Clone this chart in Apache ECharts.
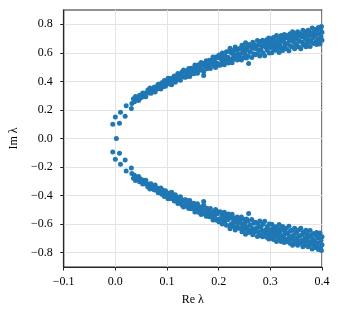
<!DOCTYPE html>
<html>
<head>
<meta charset="utf-8">
<script src="https://cdn.jsdelivr.net/npm/echarts@6/dist/echarts.min.js"></script>
<style>html,body{margin:0;padding:0;background:#fff}#c{width:340px;height:316px}</style>
</head>
<body>
<div id="c"></div>
<script>
const xTicks = [-0.1, 0.0, 0.1, 0.2, 0.3, 0.4];
const yTicks = [-0.8, -0.6, -0.4, -0.2, 0.0, 0.2, 0.4, 0.6, 0.8];
const xLabel = 'Re λ';
const yLabel = 'Im λ';

const upperBranch = [
[0.002,0.0],[-0.005,0.10],[0.0,0.15],[0.008,0.107],[0.010,0.184],[0.019,0.156],[0.021,0.23],[0.031,0.21],[0.032,0.245],
[0.035,0.278],[0.037,0.258],[0.039,0.294],[0.041,0.275],[0.043,0.288],[0.045,0.267],[0.047,0.303],[0.049,0.284],
[0.051,0.299],[0.053,0.319],[0.055,0.292],[0.057,0.317],[0.059,0.293],[0.061,0.320],[0.063,0.339],[0.065,0.318],
[0.067,0.353],[0.069,0.317],[0.071,0.342],[0.073,0.339],[0.075,0.359],[0.077,0.325],[0.079,0.363],[0.081,0.346],
[0.083,0.380],[0.085,0.359],[0.087,0.368],[0.088,0.347],[0.090,0.390],[0.092,0.362],[0.094,0.384],[0.095,0.406],
[0.097,0.366],[0.099,0.397],[0.100,0.383],[0.102,0.422],[0.104,0.381],[0.106,0.404],[0.107,0.421],[0.109,0.376],
[0.111,0.422],[0.112,0.407],[0.114,0.437],[0.116,0.394],[0.117,0.429],[0.119,0.410],[0.121,0.455],[0.122,0.429],
[0.124,0.450],[0.126,0.408],[0.127,0.443],[0.129,0.465],[0.131,0.434],[0.132,0.480],[0.134,0.429],[0.136,0.462],
[0.137,0.430],[0.139,0.474],[0.141,0.454],[0.142,0.491],[0.144,0.434],[0.146,0.471],[0.147,0.492],[0.149,0.457],
[0.151,0.490],[0.152,0.453],[0.154,0.515],[0.156,0.480],[0.157,0.493],[0.159,0.457],[0.161,0.517],[0.162,0.478],
[0.164,0.496],[0.166,0.533],[0.167,0.479],[0.169,0.515],[0.171,0.442],[0.171,0.467],[0.172,0.527],[0.174,0.500],
[0.176,0.544],[0.177,0.489],[0.179,0.522],[0.181,0.505],[0.182,0.548],[0.184,0.491],[0.186,0.544],[0.187,0.525],
[0.189,0.570],[0.191,0.512],[0.192,0.545],[0.194,0.498],[0.196,0.572],[0.197,0.527],[0.199,0.565],[0.199,0.515],
[0.201,0.584],[0.203,0.513],[0.204,0.560],[0.206,0.536],[0.207,0.599],[0.209,0.550],[0.2095,0.575],
[0.211,0.516],[0.212,0.580],[0.214,0.536],[0.215,0.607],[0.217,0.555],[0.218,0.569],[0.219,0.529],
[0.221,0.609],[0.222,0.632],[0.224,0.555],[0.225,0.597],[0.226,0.531],[0.228,0.617],[0.229,0.571],[0.2295,0.589],
[0.231,0.557],[0.232,0.640],[0.233,0.576],[0.235,0.618],[0.236,0.549],[0.238,0.593],[0.239,0.629],
[0.241,0.574],[0.242,0.627],[0.244,0.550],[0.245,0.653],[0.246,0.598],[0.248,0.616],[0.249,0.565],[0.2495,0.637],
[0.251,0.591],[0.252,0.670],[0.254,0.564],[0.255,0.619],[0.256,0.643],[0.257,0.577],[0.258,0.525],[0.259,0.658],
[0.261,0.606],[0.262,0.644],[0.264,0.567],[0.265,0.630],[0.266,0.674],[0.268,0.593],[0.269,0.657],
[0.271,0.586],[0.272,0.645],[0.273,0.627],[0.275,0.687],[0.276,0.596],[0.277,0.655],[0.279,0.619],[0.2795,0.577],
[0.281,0.679],[0.282,0.618],[0.284,0.645],[0.285,0.688],[0.286,0.598],[0.287,0.657],[0.289,0.580],
[0.291,0.677],[0.292,0.638],[0.293,0.691],[0.294,0.618],[0.296,0.655],[0.297,0.704],[0.298,0.598],[0.299,0.669],
[0.301,0.637],[0.302,0.693],[0.303,0.600],[0.304,0.659],[0.306,0.708],[0.307,0.620],[0.308,0.671],[0.309,0.644],[0.3095,0.685],
[0.311,0.618],[0.312,0.721],[0.313,0.662],[0.315,0.636],[0.316,0.699],[0.317,0.603],[0.318,0.675],[0.319,0.650],
[0.321,0.721],[0.322,0.631],[0.323,0.693],[0.324,0.616],[0.326,0.677],[0.327,0.728],[0.328,0.649],[0.329,0.704],[0.3295,0.665],
[0.331,0.629],[0.332,0.721],[0.334,0.664],[0.335,0.705],[0.336,0.614],[0.337,0.687],[0.338,0.733],[0.339,0.648],
[0.341,0.703],[0.342,0.643],[0.343,0.748],[0.344,0.679],[0.346,0.723],[0.347,0.628],[0.348,0.707],[0.349,0.664],[0.3495,0.735],
[0.351,0.656],[0.352,0.696],[0.353,0.747],[0.355,0.641],[0.356,0.719],[0.357,0.682],[0.358,0.733],[0.359,0.628],
[0.361,0.713],[0.362,0.672],[0.363,0.758],[0.364,0.654],[0.366,0.730],[0.367,0.697],[0.368,0.746],[0.369,0.642],[0.3695,0.722],
[0.371,0.669],[0.372,0.715],[0.373,0.759],[0.375,0.689],[0.376,0.744],[0.377,0.644],[0.378,0.726],[0.379,0.677],
[0.381,0.774],[0.382,0.705],[0.383,0.743],[0.384,0.666],[0.386,0.718],[0.387,0.764],[0.388,0.680],[0.389,0.730],[0.3895,0.658],
[0.391,0.760],[0.392,0.697],[0.393,0.778],[0.394,0.680],[0.395,0.732],[0.396,0.661],[0.397,0.766],[0.398,0.715],[0.399,0.784],[0.400,0.689],[0.400,0.745]
];

const lowerBranch = [
[-0.005,-0.095],[0.0,-0.146],[0.008,-0.104],[0.010,-0.181],[0.019,-0.151],[0.021,-0.228],[0.031,-0.207],[0.032,-0.245],
[0.035,-0.278],[0.037,-0.258],[0.039,-0.294],[0.041,-0.275],[0.043,-0.288],[0.045,-0.267],[0.047,-0.303],[0.049,-0.284],
[0.051,-0.299],[0.053,-0.319],[0.055,-0.292],[0.057,-0.317],[0.059,-0.293],[0.061,-0.320],[0.063,-0.339],[0.065,-0.318],
[0.067,-0.353],[0.069,-0.317],[0.071,-0.342],[0.073,-0.339],[0.075,-0.359],[0.077,-0.325],[0.079,-0.363],[0.081,-0.346],
[0.083,-0.380],[0.085,-0.359],[0.087,-0.368],[0.088,-0.347],[0.090,-0.390],[0.092,-0.362],[0.094,-0.384],[0.095,-0.406],
[0.097,-0.366],[0.099,-0.397],[0.100,-0.383],[0.102,-0.422],[0.104,-0.381],[0.106,-0.404],[0.107,-0.421],[0.109,-0.376],
[0.111,-0.422],[0.112,-0.407],[0.114,-0.437],[0.116,-0.394],[0.117,-0.429],[0.119,-0.410],[0.121,-0.455],[0.122,-0.429],
[0.124,-0.450],[0.126,-0.408],[0.127,-0.443],[0.129,-0.465],[0.131,-0.434],[0.132,-0.480],[0.134,-0.429],[0.136,-0.462],
[0.137,-0.430],[0.139,-0.474],[0.141,-0.454],[0.142,-0.491],[0.144,-0.434],[0.146,-0.471],[0.147,-0.492],[0.149,-0.457],
[0.151,-0.490],[0.152,-0.453],[0.154,-0.515],[0.156,-0.480],[0.157,-0.493],[0.159,-0.457],[0.161,-0.517],[0.162,-0.478],
[0.164,-0.496],[0.166,-0.533],[0.167,-0.479],[0.169,-0.515],[0.171,-0.442],[0.171,-0.467],[0.172,-0.527],[0.174,-0.500],
[0.176,-0.544],[0.177,-0.489],[0.179,-0.522],[0.181,-0.505],[0.182,-0.548],[0.184,-0.491],[0.186,-0.544],[0.187,-0.525],
[0.189,-0.570],[0.191,-0.512],[0.192,-0.545],[0.194,-0.498],[0.196,-0.572],[0.197,-0.527],[0.199,-0.565],[0.199,-0.515],
[0.201,-0.584],[0.203,-0.513],[0.204,-0.560],[0.206,-0.536],[0.207,-0.599],[0.209,-0.550],[0.2095,-0.575],
[0.211,-0.516],[0.212,-0.580],[0.214,-0.536],[0.215,-0.607],[0.217,-0.555],[0.218,-0.569],[0.219,-0.529],
[0.221,-0.609],[0.222,-0.632],[0.224,-0.555],[0.225,-0.597],[0.226,-0.531],[0.228,-0.617],[0.229,-0.571],[0.2295,-0.589],
[0.231,-0.557],[0.232,-0.640],[0.233,-0.576],[0.235,-0.618],[0.236,-0.549],[0.238,-0.593],[0.239,-0.629],
[0.241,-0.574],[0.242,-0.627],[0.244,-0.550],[0.245,-0.653],[0.246,-0.598],[0.248,-0.616],[0.249,-0.565],[0.2495,-0.637],
[0.251,-0.591],[0.252,-0.670],[0.254,-0.564],[0.255,-0.619],[0.256,-0.643],[0.257,-0.577],[0.258,-0.525],[0.259,-0.658],
[0.261,-0.606],[0.262,-0.644],[0.264,-0.567],[0.265,-0.630],[0.266,-0.674],[0.268,-0.593],[0.269,-0.657],
[0.271,-0.586],[0.272,-0.645],[0.273,-0.627],[0.275,-0.687],[0.276,-0.596],[0.277,-0.655],[0.279,-0.619],[0.2795,-0.577],
[0.281,-0.679],[0.282,-0.618],[0.284,-0.645],[0.285,-0.688],[0.286,-0.598],[0.287,-0.657],[0.289,-0.580],
[0.291,-0.677],[0.292,-0.638],[0.293,-0.691],[0.294,-0.618],[0.296,-0.655],[0.297,-0.704],[0.298,-0.598],[0.299,-0.669],
[0.301,-0.637],[0.302,-0.693],[0.303,-0.600],[0.304,-0.659],[0.306,-0.708],[0.307,-0.620],[0.308,-0.671],[0.309,-0.644],[0.3095,-0.685],
[0.311,-0.618],[0.312,-0.721],[0.313,-0.662],[0.315,-0.636],[0.316,-0.699],[0.317,-0.603],[0.318,-0.675],[0.319,-0.650],
[0.321,-0.721],[0.322,-0.631],[0.323,-0.693],[0.324,-0.616],[0.326,-0.677],[0.327,-0.728],[0.328,-0.649],[0.329,-0.704],[0.3295,-0.665],
[0.331,-0.629],[0.332,-0.721],[0.334,-0.664],[0.335,-0.705],[0.336,-0.614],[0.337,-0.687],[0.338,-0.733],[0.339,-0.648],
[0.341,-0.703],[0.342,-0.643],[0.343,-0.748],[0.344,-0.679],[0.346,-0.723],[0.347,-0.628],[0.348,-0.707],[0.349,-0.664],[0.3495,-0.735],
[0.351,-0.656],[0.352,-0.696],[0.353,-0.747],[0.355,-0.641],[0.356,-0.719],[0.357,-0.682],[0.358,-0.733],[0.359,-0.628],
[0.361,-0.713],[0.362,-0.672],[0.363,-0.758],[0.364,-0.654],[0.366,-0.730],[0.367,-0.697],[0.368,-0.746],[0.369,-0.642],[0.3695,-0.722],
[0.371,-0.669],[0.372,-0.715],[0.373,-0.759],[0.375,-0.689],[0.376,-0.744],[0.377,-0.644],[0.378,-0.726],[0.379,-0.677],
[0.381,-0.774],[0.382,-0.705],[0.383,-0.743],[0.384,-0.666],[0.386,-0.718],[0.387,-0.764],[0.388,-0.680],[0.389,-0.730],[0.3895,-0.658],
[0.391,-0.760],[0.392,-0.697],[0.393,-0.778],[0.394,-0.680],[0.395,-0.732],[0.396,-0.661],[0.397,-0.766],[0.398,-0.715],[0.399,-0.784],[0.400,-0.689],[0.400,-0.745]
];

const FONT = 'Liberation Serif';
const fmt = v => (v < -1e-9 ? '\u2212' : '') + Math.abs(v).toFixed(1);

const chart = echarts.init(document.getElementById('c'), null, {renderer: 'canvas'});
chart.setOption({
  animation: false,
  backgroundColor: '#fff',
  grid: {left: 63, right: 18, top: 10, bottom: 49, show: true, borderColor: '#262626', borderWidth: 1.2, backgroundColor: 'transparent'},
  xAxis: {
    type: 'value', min: -0.1, max: 0.4,
    name: xLabel, nameLocation: 'middle', nameGap: 27,
    nameTextStyle: {fontFamily: FONT, fontSize: 12, color: '#000'},
    axisLine: {show: true, onZero: false, lineStyle: {color: '#262626', width: 1.2}},
    axisTick: {show: true, inside: false, length: 3.5, customValues: xTicks, lineStyle: {color: '#262626', width: 1}},
    axisLabel: {customValues: xTicks, formatter: fmt, fontFamily: FONT, fontSize: 12, color: '#000', margin: 9},
    splitLine: {show: true, lineStyle: {color: '#e3e3e3', width: 1}}
  },
  yAxis: {
    type: 'value', min: -0.9, max: 0.9,
    name: yLabel, nameLocation: 'middle', nameGap: 42, nameRotate: 90,
    nameTextStyle: {fontFamily: FONT, fontSize: 12, color: '#000'},
    axisLine: {show: true, onZero: false, lineStyle: {color: '#262626', width: 1.2}},
    axisTick: {show: true, inside: false, length: 3.5, customValues: yTicks, lineStyle: {color: '#262626', width: 1}},
    axisLabel: {customValues: yTicks, formatter: fmt, fontFamily: FONT, fontSize: 12, color: '#000', margin: 11},
    splitLine: {show: true, lineStyle: {color: '#e3e3e3', width: 1}}
  },
  series: [
    {type: 'scatter', data: upperBranch, symbol: 'circle', symbolSize: 5, itemStyle: {color: '#1f77b4', opacity: 1}, clip: true},
    {type: 'scatter', data: lowerBranch, symbol: 'circle', symbolSize: 5, itemStyle: {color: '#1f77b4', opacity: 1}, clip: true}
  ]
});
</script>
</body>
</html>
